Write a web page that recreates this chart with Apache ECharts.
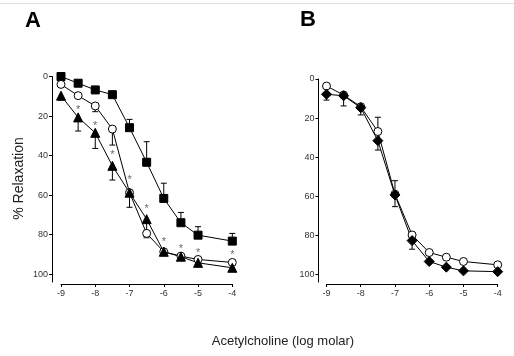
<!DOCTYPE html>
<html><head><meta charset="utf-8">
<script src="https://cdn.jsdelivr.net/npm/echarts@6/dist/echarts.min.js"></script>
<style>html,body{margin:0;padding:0;background:#fff}#c{width:514px;height:356px}</style>
</head><body><div id="c"></div>
<script>
const xs = [-9, -8.5, -8, -7.5, -7, -6.5, -6, -5.5, -5, -4];
const xTicks = [-9, -8, -7, -6, -5, -4];
const yTicks = [0, 20, 40, 60, 80, 100];
// Panel A
const aSquare   = [0, 3.4, 6.8, 9.2, 25.9, 43.4, 61.7, 74, 80.3, 83.3];
const aCircle   = [4, 9.7, 14.9, 26.6, 58.8, 79.4, 88.7, 90.9, 92.6, 94.1];
const aTriangle = [9.7, 20.7, 28.5, 45.2, 58.8, 72.2, 88.7, 91.2, 94.3, 96.8];
const aSquareErr   = [null, null, null, null, 21.7, 33, 54, 68.8, 76, 79.4];
const aCircleErr   = [null, null, 17.8, 34.7, null, 81.6, null, null, null, null];
const aTriangleErr = [11.9, 27.6, 36.4, 52.4, 66.2, 81, null, null, null, null];
const aStars = [null, 16.1, 24.2, 38.9, 51.5, 66.2, 82.8, 86.5, 88.2, 89.5];
// Panel B
const bCircle  = [3.6, 8.2, 14.2, 26.9, 59, 79.9, 88.9, 91.3, 93.5, 95.2];
const bDiamond = [7.8, 8.6, 14.7, 31.6, 59.4, 82.8, 93.5, 96.4, 98.3, 98.7];
const bCircleErr  = [null, null, null, 19.6, 52.1, null, null, null, null, null];
const bDiamondErr = [10.8, 13.8, 18.4, 36.4, 65.4, 87.2, null, null, null, null];

const pair = (vals) => xs.map((x, i) => [x, vals[i]]);
const errData = (vals, errs) => xs.map((x, i) => [x, vals[i], errs[i]]).filter(d => d[2] != null);

function errSeries(idx, vals, errs) {
  return {
    type: 'custom', xAxisIndex: idx, yAxisIndex: idx, z: 1, clip: false,
    data: errData(vals, errs),
    renderItem: function (params, api) {
      const p0 = api.coord([api.value(0), api.value(1)]);
      const p1 = api.coord([api.value(0), api.value(2)]);
      const st = { stroke: '#000', lineWidth: 1 };
      return { type: 'group', children: [
        { type: 'line', shape: { x1: p0[0], y1: p0[1], x2: p1[0], y2: p1[1] }, style: st },
        { type: 'line', shape: { x1: p1[0] - 3, y1: p1[1], x2: p1[0] + 3, y2: p1[1] }, style: st }
      ]};
    }
  };
}
function lineSeries(idx, vals, symbol, size, filled) {
  return {
    type: 'line', xAxisIndex: idx, yAxisIndex: idx, z: 3, clip: false,
    data: pair(vals), symbol: symbol, symbolSize: size, showSymbol: true,
    lineStyle: { color: '#000', width: 1 },
    itemStyle: { color: filled ? '#000' : '#fff', borderColor: '#000', borderWidth: 1 },
    emphasis: { disabled: true }, animation: false
  };
}
function xAxisDef(idx) {
  return {
    type: 'value', gridIndex: idx, min: -9, max: -4, interval: 1, offset: 2,
    axisLine: { onZero: false, lineStyle: { color: '#000', width: 1 } },
    axisTick: { length: 3, lineStyle: { color: '#000' } },
    axisLabel: { fontSize: 9, color: '#333', margin: 5, fontFamily: 'Liberation Sans' },
    splitLine: { show: false }
  };
}
function yAxisDef(idx, off) {
  return {
    type: 'value', gridIndex: idx, min: 0, max: 104, inverse: true, offset: off,
    axisLine: { show: true, onZero: false, lineStyle: { color: '#000', width: 1 } },
    axisTick: { show: true, length: 3, customValues: yTicks, lineStyle: { color: '#000' } },
    axisLabel: { fontSize: 9, color: '#333', margin: 4, customValues: yTicks, fontFamily: 'Liberation Sans' },
    splitLine: { show: false }
  };
}

const chart = echarts.init(document.getElementById('c'), null, { renderer: 'canvas' });
chart.setOption({
  animation: false,
  backgroundColor: '#fff',
  grid: [
    { left: 61, right: 281.7, top: 76.5, bottom: 74 },
    { left: 326.5, right: 16.3, top: 79, bottom: 74 }
  ],
  xAxis: [xAxisDef(0), xAxisDef(1)],
  yAxis: [yAxisDef(0, 9), yAxisDef(1, 8)],
  graphic: [
    { type: 'line', shape: { x1: 0, y1: 3.5, x2: 514, y2: 3.5 }, style: { stroke: '#e0e0e0', lineWidth: 1 } },
    { type: 'text', left: 25, top: 10, style: { text: 'A', font: 'bold 22px "Liberation Sans"', fill: '#000' } },
    { type: 'text', left: 300, top: 9, style: { text: 'B', font: 'bold 22px "Liberation Sans"', fill: '#000' } },
    { type: 'text', x: 19.5, y: 178.5, rotation: Math.PI / 2,
      style: { text: '% Relaxation', font: '14px "Liberation Sans"', fill: '#222', align: 'center', verticalAlign: 'middle' } },
    { type: 'text', x: 283, y: 341.5,
      style: { text: 'Acetylcholine (log molar)', font: '13px "Liberation Sans"', fill: '#222', align: 'center', verticalAlign: 'middle' } }
  ],
  series: [
    errSeries(0, aSquare, aSquareErr),
    errSeries(0, aCircle, aCircleErr),
    errSeries(0, aTriangle, aTriangleErr),
    lineSeries(0, aSquare, 'rect', 8, true),
    lineSeries(0, aCircle, 'circle', 8, false),
    lineSeries(0, aTriangle, 'triangle', 9, true),
    {
      type: 'scatter', xAxisIndex: 0, yAxisIndex: 0, z: 4, clip: false,
      data: pair(aStars).filter(d => d[1] != null), symbolSize: 0,
      label: { show: true, position: 'inside', formatter: '*', fontSize: 11, color: '#444', offset: [0, 2], fontFamily: 'Liberation Sans' },
      emphasis: { disabled: true }
    },
    errSeries(1, bCircle, bCircleErr),
    errSeries(1, bDiamond, bDiamondErr),
    lineSeries(1, bCircle, 'circle', 8, false),
    lineSeries(1, bDiamond, 'diamond', 10, true)
  ]
});
</script></body></html>
